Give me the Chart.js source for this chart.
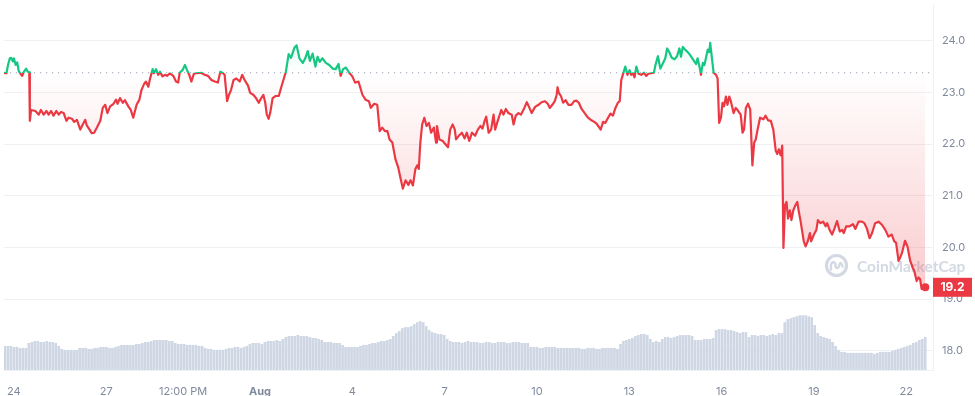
<!DOCTYPE html>
<html><head><meta charset="utf-8">
<script src="https://cdn.jsdelivr.net/npm/chart.js@4"></script>
<style>html,body{margin:0;padding:0;background:#fff;}</style>
</head><body>
<canvas id="c" width="975" height="396"></canvas>
<script>
// Time in days since Jul 24 00:00
const priceDays = [
-0.32,-0.24,-0.19,-0.13,-0.09,-0.03,0.00,0.06,0.11,0.16,
0.22,0.27,0.32,0.40,0.45,0.50,0.52,0.56,0.70,0.81,
0.88,0.97,1.06,1.13,1.21,1.29,1.38,1.46,1.53,1.62,
1.71,1.78,1.89,1.96,2.05,2.16,2.24,2.32,2.37,2.46,
2.53,2.61,2.70,2.81,2.89,2.97,3.04,3.13,3.24,3.32,
3.37,3.45,3.54,3.61,3.72,3.80,3.88,3.99,4.08,4.15,
4.23,4.29,4.37,4.42,4.51,4.55,4.62,4.69,4.75,4.83,
4.91,4.98,5.07,5.18,5.27,5.34,5.39,5.48,5.56,5.63,
5.70,5.77,5.85,5.93,6.09,6.20,6.31,6.42,6.53,6.63,
6.71,6.80,6.85,6.93,6.99,7.06,7.14,7.23,7.34,7.42,
7.50,7.61,7.68,7.79,7.87,7.96,8.04,8.11,8.17,8.22,
8.28,8.33,8.41,8.50,8.61,8.68,8.76,8.84,8.93,9.01,
9.12,9.19,9.28,9.39,9.47,9.55,9.62,9.71,9.80,9.87,
9.94,10.03,10.14,10.25,10.36,10.46,10.55,10.62,10.70,10.79,
10.90,11.00,11.09,11.20,11.33,11.43,11.54,11.60,11.71,11.81,
11.89,11.97,12.06,12.14,12.21,12.30,12.40,12.49,12.57,12.64,
12.73,12.82,12.89,12.97,13.05,13.11,13.16,13.21,13.27,13.34,
13.41,13.49,13.56,13.65,13.72,13.75,13.83,13.94,14.02,14.11,
14.18,14.26,14.33,14.37,14.46,14.56,14.65,14.72,14.80,14.89,
14.99,15.08,15.16,15.23,15.30,15.35,15.43,15.51,15.59,15.64,
15.73,15.84,15.91,15.99,16.07,16.18,16.24,16.31,16.40,16.48,
16.59,16.67,16.74,16.83,16.94,17.05,17.15,17.26,17.35,17.42,
17.50,17.58,17.64,17.67,17.71,17.78,17.85,17.93,18.02,18.12,
18.21,18.28,18.36,18.45,18.55,18.66,18.77,18.86,18.93,18.99,
19.07,19.15,19.22,19.31,19.39,19.47,19.55,19.63,19.69,19.74,
19.79,19.87,19.94,20.01,20.06,20.12,20.17,20.23,20.30,20.39,
20.48,20.55,20.62,20.71,20.80,20.85,20.93,21.01,21.09,21.17,
21.23,21.30,21.38,21.47,21.55,21.63,21.68,21.74,21.81,21.90,
21.98,22.09,22.17,22.22,22.28,22.33,22.39,22.44,22.49,22.55,
22.60,22.63,22.68,22.74,22.82,22.87,22.92,22.98,23.03,23.08,
23.14,23.19,23.25,23.30,23.39,23.46,23.54,23.62,23.68,23.73,
23.79,23.86,23.93,24.00,24.06,24.11,24.16,24.25,24.36,24.43,
24.51,24.60,24.68,24.76,24.81,24.86,24.92,24.97,25.01,25.06,
25.11,25.16,25.22,25.27,25.33,25.40,25.46,25.51,25.57,25.62,
25.67,25.73,25.80,25.87,25.91,26.00,26.08,26.13,26.21,26.30,
26.38,26.43,26.51,26.59,26.67,26.75,26.84,26.92,26.97,27.05,
27.16,27.27,27.35,27.45,27.56,27.64,27.72,27.81,27.89,27.99,
28.10,28.21,28.32,28.42,28.53,28.61,28.67,28.75,28.80,28.86,
28.96,29.04,29.13,29.21,29.26,29.34,29.40,29.45,29.50,29.56,29.62
];
const priceValues = [
23.38,23.37,23.53,23.66,23.67,23.60,23.66,23.53,23.58,23.41,
23.36,23.32,23.39,23.46,23.40,23.39,22.45,22.66,22.64,22.57,
22.66,22.57,22.64,22.57,22.64,22.55,22.64,22.57,22.62,22.60,
22.45,22.51,22.49,22.43,22.47,22.28,22.38,22.47,22.36,22.28,
22.21,22.22,22.32,22.45,22.70,22.76,22.60,22.73,22.78,22.86,
22.78,22.89,22.80,22.85,22.73,22.66,22.51,22.76,22.86,23.05,
23.16,23.21,23.11,23.25,23.45,23.37,23.45,23.34,23.40,23.31,
23.34,23.32,23.37,23.32,23.21,23.19,23.38,23.43,23.53,23.43,
23.34,23.21,23.36,23.37,23.38,23.34,23.32,23.24,23.21,23.19,
23.40,23.37,23.34,22.83,22.95,23.05,23.24,23.27,23.21,23.34,
23.24,23.13,22.99,22.95,22.89,22.80,22.89,22.95,22.80,22.57,
22.49,22.60,22.89,22.93,22.93,23.08,23.24,23.40,23.74,23.67,
23.87,23.91,23.66,23.57,23.66,23.80,23.61,23.75,23.50,23.69,
23.59,23.66,23.57,23.53,23.46,23.45,23.55,23.32,23.45,23.48,
23.38,23.31,23.19,23.21,22.95,22.86,22.83,22.70,22.78,22.76,
22.25,22.32,22.25,22.25,22.09,22.03,21.71,21.55,21.33,21.14,
21.30,21.21,21.30,21.20,21.52,21.59,21.52,22.03,22.38,22.51,
22.35,22.41,22.22,22.32,22.03,22.35,22.09,22.06,22.00,21.94,
22.28,22.38,22.28,22.09,22.16,22.22,22.11,22.22,22.06,22.22,
22.16,22.28,22.35,22.30,22.45,22.53,22.22,22.28,22.57,22.28,
22.46,22.66,22.57,22.68,22.60,22.57,22.38,22.55,22.60,22.57,
22.70,22.81,22.72,22.60,22.72,22.76,22.81,22.83,22.78,22.70,
22.76,22.83,22.95,23.10,22.99,22.93,22.80,22.85,22.76,22.76,
22.83,22.84,22.80,22.68,22.60,22.51,22.46,22.43,22.40,22.35,
22.28,22.43,22.41,22.51,22.59,22.55,22.70,22.80,22.83,23.24,
23.34,23.50,23.34,23.43,23.34,23.37,23.29,23.50,23.36,23.34,
23.38,23.32,23.36,23.37,23.38,23.53,23.70,23.46,23.56,23.66,
23.85,23.78,23.67,23.64,23.70,23.85,23.69,23.88,23.83,23.78,
23.72,23.62,23.55,23.66,23.50,23.34,23.57,23.53,23.66,23.83,
23.78,23.96,23.69,23.38,23.34,23.27,22.41,22.51,22.80,22.73,
22.92,22.76,22.92,22.83,22.60,22.70,22.64,22.57,22.22,22.28,
22.70,22.78,22.67,21.59,22.03,22.09,22.25,22.51,22.48,22.55,
22.46,22.45,22.28,21.87,21.81,21.90,21.78,21.97,19.99,20.82,
20.88,20.56,20.72,20.53,20.72,20.82,20.88,20.69,20.50,20.31,
20.12,20.02,20.12,20.28,20.12,20.25,20.34,20.53,20.47,20.50,
20.41,20.47,20.34,20.25,20.37,20.51,20.31,20.34,20.28,20.41,
20.41,20.45,20.36,20.50,20.50,20.47,20.37,20.18,20.28,20.47,
20.50,20.44,20.34,20.21,20.25,20.12,20.09,19.74,19.80,19.89,
20.13,20.02,19.74,19.61,19.55,19.35,19.42,19.39,19.20,19.23,19.23
];
// Trading volume (relative units), one bar per period
const volumeValues = [
24,24,24,23,23,22,22,22,27,
28,29,29,28,28,29,28,28,27,24,
21,20,20,20,20,20,22,22,22,21,21,22,22,
23,23,23,22,22,23,24,25,25,25,25,25,26,26,
27,28,28,29,30,30,30,30,30,29,29,27,26,26,
26,25,25,25,25,24,24,22,21,21,20,20,20,20,21,
22,22,23,23,22,23,24,26,27,27,27,26,28,29,29,29,30,29,
31,33,34,34,34,35,34,34,34,33,32,32,31,30,28,28,28,27,27,27,
25,23,23,23,23,23,24,25,25,26,27,27,28,29,29,30,31,
34,37,39,42,43,43,44,46,48,49,48,44,40,38,37,36,36,35,
31,29,28,28,28,27,28,29,28,28,28,
27,27,28,28,27,27,28,28,28,27,27,28,28,28,27,27,27,
23,23,23,22,22,23,23,23,23,22,22,22,22,22,22,22,22,21,21,22,22,22,21,21,22,22,22,22,22,
21,26,29,30,31,32,34,35,36,36,35,31,28,29,28,31,33,33,32,33,
34,35,35,35,35,34,30,30,30,31,31,31,32,40,41,41,41,40,40,39,
38,37,38,38,33,35,35,34,35,35,34,35,36,35,37,37,
48,51,52,53,54,55,55,55,54,53,45,37,34,33,32,31,28,24,20,
18,18,17,17,17,17,17,17,17,17,17,16,17,18,18,18,18,19,
20,21,22,23,24,25,27,28,30,31,33
];
const volumeStartDay = -0.29;
const volumeStepDay = 0.0971;
const baselinePrice = 23.38;
const tickDays = [0, 3, 5.5, 8, 11, 14, 17, 20, 23, 26, 29];
const tickLabels = ['24', '27', '12:00 PM', 'Aug', '4', '7', '10', '13', '16', '19', '22'];
const priceTicks = [18, 19, 20, 21, 22, 23, 24];
const xRange = [-0.32, 29.87];
const yRange = [17.63, 24.71];
const volumeMax = 370;

const RED = '#ea3943', GREEN = '#16c784';
const GRID = '#eff2f5', TEXT = '#808a9d';

function baseFrac(chart) {
  const a = chart.chartArea;
  const y = chart.scales.y.getPixelForValue(baselinePrice);
  return Math.min(1, Math.max(0, (y - a.top) / (a.bottom - a.top)));
}
function lineGradient(ctx) {
  const c = ctx.chart, a = c.chartArea;
  if (!a) return RED;
  const t = baseFrac(c);
  const g = c.ctx.createLinearGradient(0, a.top, 0, a.bottom);
  g.addColorStop(0, GREEN); g.addColorStop(t, GREEN);
  g.addColorStop(t, RED); g.addColorStop(1, RED);
  return g;
}
function fillGradient(ctx) {
  const c = ctx.chart, a = c.chartArea;
  if (!a) return 'rgba(0,0,0,0)';
  const t = baseFrac(c);
  const g = c.ctx.createLinearGradient(0, a.top, 0, a.bottom);
  g.addColorStop(0, 'rgba(22,199,132,0.22)');
  g.addColorStop(t, 'rgba(22,199,132,0.0)');
  g.addColorStop(t, 'rgba(234,57,67,0.0)');
  g.addColorStop(1, 'rgba(234,57,67,0.36)');
  return g;
}

const overlayPlugin = {
  id: 'overlay',
  beforeDatasetsDraw(chart) {
    const {ctx, chartArea: a} = chart;
    ctx.save();
    const cx = a.right - 96.5, cy = 265.5;
    ctx.strokeStyle = '#d3d9e3';
    ctx.lineWidth = 3.2;
    ctx.beginPath(); ctx.arc(cx, cy, 10, 0, Math.PI * 2); ctx.stroke();
    ctx.lineWidth = 2.4;
    ctx.lineJoin = 'round';
    ctx.lineCap = 'round';
    ctx.beginPath();
    ctx.moveTo(cx - 5.5, cy + 4);
    ctx.lineTo(cx - 5.5, cy - 1);
    ctx.quadraticCurveTo(cx - 3, cy - 6, cx - 1, cy - 1);
    ctx.lineTo(cx - 1, cy + 1);
    ctx.quadraticCurveTo(cx + 1.5, cy + 5, cx + 3, cy - 1);
    ctx.quadraticCurveTo(cx + 4.5, cy - 5, cx + 6, cy + 1);
    ctx.stroke();
    ctx.fillStyle = '#d3d9e3';
    ctx.font = 'bold 15.5px Lato';
    ctx.textBaseline = 'middle';
    ctx.textAlign = 'left';
    ctx.fillText('CoinMarketCap', a.right - 76, cy + 1);
    ctx.restore();
  },
  afterDraw(chart) {
    const {ctx, chartArea: a, scales} = chart;
    const last = priceValues[priceValues.length - 1];
    const y = scales.y.getPixelForValue(last);
    ctx.save();
    ctx.fillStyle = RED;
    ctx.fillRect(a.right, y - 9.5, 39, 19);
    ctx.fillStyle = '#ffffff';
    ctx.font = 'bold 12px Inter';
    ctx.textAlign = 'center';
    ctx.textBaseline = 'middle';
    ctx.fillText(last.toFixed(1), a.right + 19.5, y + 0.5);
    ctx.restore();
  }
};

new Chart(document.getElementById('c'), {
  type: 'line',
  data: {
    datasets: [
      {
        type: 'line',
        label: 'Price',
        data: priceDays.map((d, i) => ({x: d, y: priceValues[i]})),
        yAxisID: 'y',
        borderColor: lineGradient,
        backgroundColor: fillGradient,
        borderWidth: 2.2,
        tension: 0,
        borderJoinStyle: 'round',
        fill: {value: baselinePrice},
        pointRadius: (c) => c.dataIndex === priceValues.length - 1 ? 4 : 0,
        pointBackgroundColor: RED,
        pointBorderWidth: 0,
        order: 0
      },
      {
        type: 'line',
        label: 'Baseline',
        data: [{x: xRange[0], y: baselinePrice}, {x: xRange[1], y: baselinePrice}],
        yAxisID: 'y',
        borderColor: '#9aa2b4',
        borderWidth: 1,
        borderDash: [1.2, 4.8],
        pointRadius: 0,
        fill: false,
        order: 1
      },
      {
        type: 'bar',
        label: 'Volume',
        data: volumeValues.map((v, i) => ({x: volumeStartDay + i * volumeStepDay, y: v})),
        yAxisID: 'yv',
        backgroundColor: '#cfd6e4',
        barThickness: 2,
        order: 2
      }
    ]
  },
  options: {
    responsive: false,
    devicePixelRatio: 1,
    animation: false,
    events: [],
    layout: {padding: 0},
    plugins: {legend: {display: false}, tooltip: {enabled: false}},
    scales: {
      x: {
        type: 'linear',
        min: xRange[0], max: xRange[1],
        offset: false,
        afterBuildTicks: (s) => { s.ticks = tickDays.map(v => ({value: v})); },
        afterFit: (s) => { s.height = 26; s.paddingLeft = 0; s.paddingRight = 0; },
        grid: {display: false},
        border: {display: true, color: GRID},
        ticks: {
          autoSkip: false, maxRotation: 0, padding: 7, color: TEXT,
          font: (c) => ({family: 'Inter', size: 11, weight: c.index === 3 ? 'bold' : 'normal'}),
          callback: (v, i) => tickLabels[i]
        }
      },
      y: {
        position: 'right',
        min: yRange[0], max: yRange[1],
        afterBuildTicks: (s) => { s.ticks = priceTicks.map(v => ({value: v})); },
        afterFit: (s) => { s.width = 42; s.paddingTop = 0; s.paddingBottom = 0; },
        grid: {color: GRID, drawTicks: false},
        border: {display: true, color: GRID},
        ticks: {padding: 9, color: TEXT, font: {family: 'Inter', size: 11}, callback: (v) => Number(v).toFixed(1)}
      },
      yv: {display: false, min: 0, max: volumeMax}
    }
  },
  plugins: [overlayPlugin]
});
</script>
</body></html>
